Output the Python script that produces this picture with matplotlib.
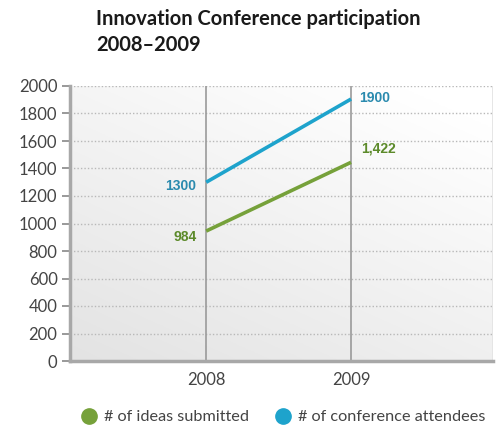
import matplotlib
matplotlib.use("Agg")
import matplotlib.pyplot as plt
import numpy as np
from matplotlib.lines import Line2D

years = [2008, 2009]
ideas = [945, 1445]
attendees = [1300, 1905]
ideas_labels = ["984", "1,422"]
attendees_labels = ["1300", "1900"]
yticks = [0, 200, 400, 600, 800, 1000, 1200, 1400, 1600, 1800, 2000]
series_names = ["# of ideas submitted", "# of conference attendees"]
title = "Innovation Conference participation\n2008\u20132009"

green = "#76a13a"
green_txt = "#5c8a2a"
blue = "#1ea3cc"
blue_txt = "#2a8aae"
gray_txt = "#444444"

W, H = 501, 428
fig = plt.figure(figsize=(W / 100, H / 100), dpi=100)
ax = fig.add_axes([70 / W, 1 - 361 / H, (493 - 70) / W, (361 - 86) / H])

x0, x1 = 2007.06, 2009.98
ax.set_xlim(x0, x1)
ax.set_ylim(0, 2000)

# gradient background
gx = np.linspace(0, 1, 200)
gy = np.linspace(0, 1, 200)
GX, GY = np.meshgrid(gx, gy)
t = np.clip(0.65 * GY + 0.45 * GX, 0, 1)
c_lo = np.array([0.89, 0.89, 0.89])
c_hi = np.array([1.0, 1.0, 1.0])
img = c_lo[None, None, :] * (1 - t[..., None]) + c_hi[None, None, :] * t[..., None]
ax.imshow(img, extent=[x0, x1, 0, 2000], origin="lower", aspect="auto", zorder=0)

# grid
for v in yticks[1:]:
    ax.axhline(v, color="#b8b8b8", lw=1.0, ls=(0, (1, 1.5)), zorder=1)
for yr in years:
    ax.axvline(yr, color="#9a9a9a", lw=1.2, zorder=1)
ax.axvline(x1, color="#e4e4e4", lw=2, zorder=1)

ax.plot(years, attendees, color=blue, lw=2.6, solid_capstyle="butt", zorder=3)
ax.plot(years, ideas, color=green, lw=2.6, solid_capstyle="butt", zorder=3)

lab_font = dict(family="Liberation Sans", weight="bold", fontsize=10)
ax.annotate(attendees_labels[0], (years[0], attendees[0]), xytext=(-7, -3),
            textcoords="offset points", ha="right", va="center", color=blue_txt, **lab_font)
ax.annotate(ideas_labels[0], (years[0], ideas[0]), xytext=(-7, -4),
            textcoords="offset points", ha="right", va="center", color=green_txt, **lab_font)
ax.annotate(attendees_labels[1], (years[1], attendees[1]), xytext=(6, 1),
            textcoords="offset points", ha="left", va="center", color=blue_txt, **lab_font)
ax.annotate(ideas_labels[1], (years[1], ideas[1]), xytext=(7, 10),
            textcoords="offset points", ha="left", va="center", color=green_txt, **lab_font)

for s in ["top", "right"]:
    ax.spines[s].set_visible(False)
ax.spines["left"].set_color("#a8a8a8")
ax.spines["left"].set_linewidth(2.5)
ax.spines["bottom"].set_color("#a8a8a8")
ax.spines["bottom"].set_linewidth(2.5)

tfam = "Lato"
ax.set_yticks(yticks)
ax.set_yticklabels([str(v) for v in yticks], color=gray_txt, fontfamily=tfam, fontsize=12)
ax.set_xticks(years)
ax.set_xticklabels([str(y) for y in years], color=gray_txt, fontfamily=tfam, fontsize=12)
ax.tick_params(axis="y", length=6, width=1.2, color="#888888", pad=3)
ax.tick_params(axis="x", length=0, pad=8)

fig.text(96 / W, 1 - 9 / H, title, ha="left", va="top", fontsize=14.5,
         fontfamily=tfam, fontweight="bold", color="#1a1a1a", linespacing=1.4)

handles = [Line2D([], [], marker="o", ls="none", markersize=11, color=green),
           Line2D([], [], marker="o", ls="none", markersize=11, color=blue)]
fig.legend(handles, series_names, loc="center", bbox_to_anchor=(283 / W, 1 - 417 / H),
           ncol=2, frameon=False, handletextpad=0.4, columnspacing=1.6,
           prop=dict(family=tfam, size=11.7), labelcolor=gray_txt, handlelength=1.0)

fig.savefig("out.png", dpi=100)
